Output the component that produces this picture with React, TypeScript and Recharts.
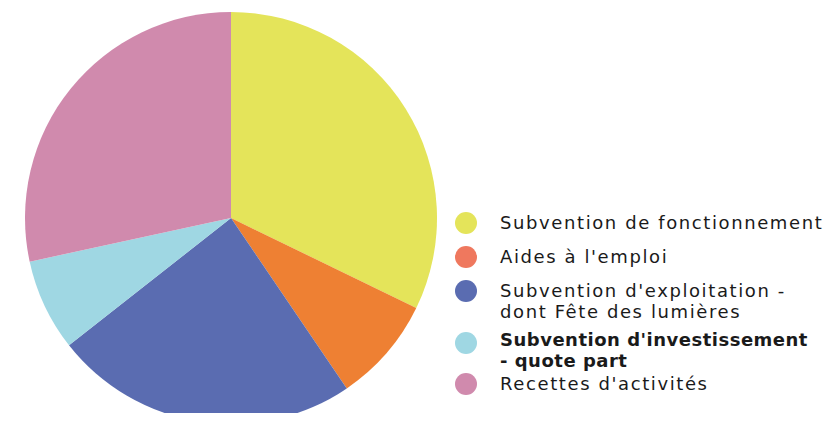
import { PieChart, Pie, Cell, Legend } from "recharts";

// Répartition des ressources
const labels = [
  ["Subvention de fonctionnement"],
  ["Aides à l'emploi"],
  ["Subvention d'exploitation -", "dont Fête des lumières"],
  ["Subvention d'investissement", "- quote part"],
  ["Recettes d'activités"],
];
const values = [32.2, 8.3, 23.9, 7.2, 28.4];
const sliceColors = ["#e4e45a", "#ee8033", "#5a6cb1", "#9fd7e3", "#d08aad"];
const dotColors = ["#e4e45a", "#ef785e", "#5a6cb1", "#9fd7e3", "#d08aad"];
const boldRows = [false, false, false, true, false];

const data = values.map((v, i) => ({ name: labels[i].join(" "), value: v }));

const FONT = "'DejaVu Sans', sans-serif";
const rowGap = [12, 12, 7, 2, 0];
const dotTop = [0, 0, 0, 3, 0];

function LegendBox() {
  return (
    <div style={{ fontFamily: FONT, fontSize: 18, color: "#1a1a1a" }}>
      {labels.map((lines, i) => (
        <div key={i} style={{ display: "flex", alignItems: "flex-start", marginBottom: rowGap[i] }}>
          <div
            style={{
              width: 22,
              height: 22,
              borderRadius: "50%",
              background: dotColors[i],
              marginLeft: 0,
              marginRight: 23,
              marginTop: dotTop[i],
              flexShrink: 0,
            }}
          />
          <div
            style={{
              fontWeight: boldRows[i] ? 700 : 400,
              letterSpacing: boldRows[i] ? 0.5 : 1.6,
              lineHeight: lines.length > 1 ? "21px" : "22px",
              whiteSpace: "nowrap",
            }}
          >
            {lines.map((l) => (
              <div key={l}>{l}</div>
            ))}
          </div>
        </div>
      ))}
    </div>
  );
}

export default function App() {
  return (
    <div style={{ margin: -8, width: 831, height: 421, background: "#fff" }}>
      <PieChart width={831} height={421} margin={{ top: 0, right: 0, bottom: 0, left: 0 }}>
        <Pie
          data={data}
          dataKey="value"
          cx={231}
          cy={218}
          outerRadius={206}
          startAngle={90}
          endAngle={-270}
          stroke="none"
          isAnimationActive={false}
        >
          {data.map((d, i) => (
            <Cell key={d.name} fill={sliceColors[i]} />
          ))}
        </Pie>
        <Legend
          content={() => <LegendBox />}
          wrapperStyle={{ left: 455, top: 212, width: 376 }}
        />
      </PieChart>
    </div>
  );
}
